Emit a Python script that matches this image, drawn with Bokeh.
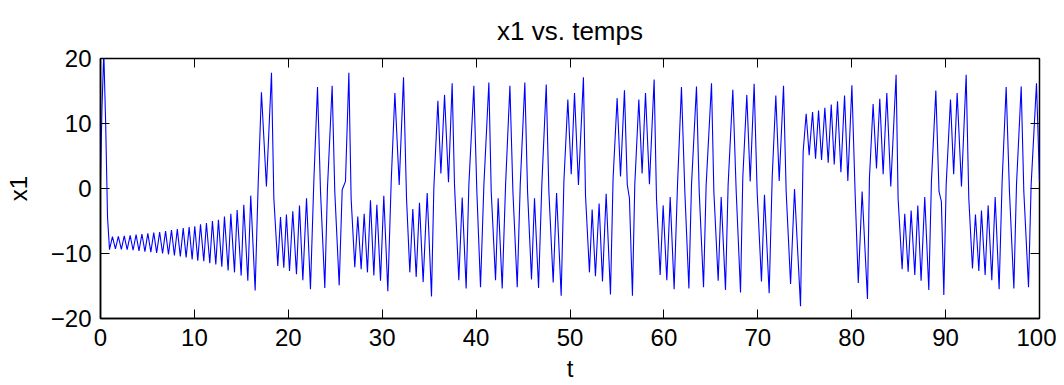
from bokeh.plotting import figure
from bokeh.models import LinearAxis, FixedTicker, Range1d, CustomJSTickFormatter
from bokeh.embed import file_html
from bokeh.resources import INLINE

x_ticks = [0, 10, 20, 30, 40, 50, 60, 70, 80, 90, 100]
y_ticks = [-20, -10, 0, 10, 20]

t_a = [0.0, 0.15, 0.35, 0.55, 0.75, 0.96, 1.27, 1.59, 1.90, 2.22, 2.53, 2.84, 3.16, 3.47, 3.79, 4.10,
       4.41, 4.73, 5.04, 5.36, 5.67, 5.98, 6.30, 6.61, 6.93, 7.24, 7.56, 7.87, 8.18, 8.50, 8.81, 9.12,
       9.44, 9.76]
x_a = [1.0, 12.0, 21.0, 10.0, -4.5, -9.4, -7.4, -9.3, -7.35, -9.35, -7.3, -9.4, -7.2, -9.5, -7.1, -9.6,
       -7.0, -9.7, -6.9, -9.8, -6.8, -9.9, -6.7, -10.0, -6.55, -10.15, -6.4, -10.3, -6.25, -10.45, -6.1, -10.6,
       -5.95, -10.9]

t_b = [10.04, 10.36, 10.65, 11.0, 11.28, 11.64, 11.92, 12.28, 12.56, 12.92, 13.2, 13.59, 13.88, 14.27,
       14.55, 14.98, 15.26, 15.69, 16.0, 16.47, 16.79, 17.14, 17.67, 18.21, 18.46, 18.88, 19.17, 19.52,
       19.8, 20.13, 20.48, 20.87, 21.19, 21.55, 21.94, 22.36, 22.72, 23.11, 23.43, 23.89, 24.17, 24.67,
       24.95, 25.42, 25.74, 26.09, 26.45, 26.69, 27.08, 27.4, 27.76, 28.08, 28.43, 28.75, 29.11, 29.43,
       29.82]
x_b = [-5.8, -11.1, -5.5, -11.2, -5.3, -11.5, -5.0, -11.7, -4.8, -12.05, -4.3, -12.6, -3.9, -12.9,
       -3.3, -13.4, -2.5, -14.2, -1.1, -15.7, 0.6, 14.8, 0.3, 17.8, -1.5, -11.9, -4.4, -12.2,
       -4.0, -12.7, -3.5, -13.2, -2.6, -14.1, -1.5, -15.5, 1.1, 15.6, -0.45, -15.3, 0.05, 15.8,
       -0.45, -14.9, -0.2, 1.1, 17.8, -1.5, -12.1, -4.3, -12.4, -3.9, -12.9, -1.8, -13.4, -2.5,
       -14.2]

t_c = [30.17, 30.6, 30.96, 31.35, 31.81, 32.27, 32.59, 32.94, 33.26, 33.62, 33.97, 34.36, 34.79, 35.25,
       35.5, 35.93, 36.25, 36.64, 37.06, 37.45, 37.7, 38.16, 38.52, 38.94, 39.23, 39.76, 40.08, 40.47,
       40.83, 41.36, 41.61, 42.07, 42.35, 42.78, 43.14, 43.6, 43.92, 44.38, 44.7, 45.19, 45.48, 45.9,
       46.22, 46.65, 47.0, 47.47, 47.75, 48.21, 48.57, 49.06, 49.35, 49.77]
x_c = [-1.1, -15.8, 1.1, 14.7, 0.56, 17.1, -1.5, -12.9, -3.15, -13.6, -2.2, -14.4, -0.7, -16.6,
       0.05, 13.5, 2.3, 14.4, 0.97, 16.2, 0.56, -14.1, -1.4, -15.4, 0.56, 15.8, -0.45, -15.2,
       0.56, 16.3, -0.45, -14.1, -1.5, -15.4, 0.56, 15.8, -0.45, -15.2, 0.56, 16.3, -0.45, -14.0,
       -1.5, -15.3, 0.56, 16.0, -0.45, -14.45, -0.7, -16.5, 1.07, 13.7]

t_d = [50.13, 50.48, 50.9, 51.43, 51.65, 52.07, 52.36, 52.71, 53.1, 53.46, 53.85, 54.31, 54.59, 55.02,
       55.38, 55.8, 56.1, 56.33, 56.65, 56.9, 57.33, 57.68, 58.04, 58.46, 58.96, 59.21, 59.6, 59.92,
       60.31, 60.67, 61.09, 61.45, 61.87, 62.23, 62.66, 62.94, 63.47, 63.76, 64.22, 64.5, 65.07, 65.32,
       65.78, 66.1, 66.56, 66.84, 67.34, 67.7, 68.16, 68.4, 68.83, 69.19, 69.61, 69.93]
x_d = [2.2, 14.7, 0.56, 17.1, -1.0, -12.9, -3.25, -13.5, -2.3, -14.3, -0.8, -16.3, 1.58, 13.9,
       1.84, 15.1, 0.56, -1.5, -16.5, 0.56, 13.7, 2.3, 14.7, 0.66, 16.75, -1.5, -13.3, -2.6,
       -14.1, -1.3, -15.5, 0.56, 15.6, -0.45, -15.4, 0.56, 15.7, -0.45, -15.2, 0.56, 16.2, -0.45,
       -14.2, -1.3, -15.6, 0.56, 15.2, -0.45, -16.0, 1.58, 14.4, 1.07, 16.1, -0.45]

t_e = [70.39, 70.71, 71.21, 71.53, 71.92, 72.28, 72.74, 73.02, 73.49, 73.91, 74.55, 74.83, 75.15, 75.47,
       75.83, 76.15, 76.47, 76.79, 77.14, 77.5, 77.82, 78.14, 78.49, 78.85, 79.24, 79.59, 80.02, 80.37,
       80.7, 81.11, 81.68, 81.89, 82.28, 82.64, 82.99, 83.35, 83.74, 84.16, 84.73, 84.94, 85.37, 85.65,
       86.01, 86.33, 86.72, 87.04, 87.39, 87.78, 88.21, 88.49, 88.96, 89.3, 89.55, 89.81]
x_e = [-14.3, -0.96, -16.1, 1.58, 14.3, 1.17, 15.8, -0.45, -14.7, -0.1, -18.1, 5.65, 11.5, 5.14,
       11.76, 4.6, 12.0, 4.4, 12.4, 3.97, 12.9, 3.7, 13.4, 2.5, 14.3, 1.17, 15.9, -0.96,
       -14.55, -0.45, -17.0, 1.58, 13.0, 3.1, 13.8, 2.2, 14.7, 0.3, 17.5, -1.5, -12.4, -3.9,
       -12.8, -3.4, -13.3, -2.6, -14.2, -1.3, -15.6, 1.07, 15.07, -0.45, -2.0, -16.4]

t_f = [90.06, 90.52, 90.86, 91.23, 91.69, 92.19, 92.47, 92.86, 93.18, 93.54, 93.82, 94.21, 94.53, 94.92,
       95.28, 95.7, 96.02, 96.45, 96.8, 97.27, 97.55, 98.05, 98.33, 98.83, 99.11, 99.68, 100.0]
x_f = [0.56, 13.7, 2.2, 14.7, 0.3, 17.5, -1.5, -12.3, -4.0, -12.7, -3.4, -13.3, -2.6, -14.1,
       -1.3, -15.5, 1.07, 15.6, -0.45, -15.4, 0.56, 15.7, -0.45, -15.2, 0.56, 16.2, 1.0]

t = t_a + t_b + t_c + t_d + t_e + t_f
x1 = x_a + x_b + x_c + x_d + x_e + x_f

FONT = "Liberation Sans"

p = figure(width=1056, height=384, x_range=Range1d(0, 100), y_range=Range1d(-20, 20),
           output_backend="svg", toolbar_location=None, title="x1 vs. temps",
           min_border_left=100, min_border_right=17, min_border_top=57, min_border_bottom=59)

p.line(t, x1, line_color="#0000ff", line_width=1.1)

p.xgrid.visible = False
p.ygrid.visible = False
p.outline_line_color = "black"
p.outline_line_width = 1.5
p.background_fill_color = "white"
p.border_fill_color = "white"

p.title.align = "center"
p.title.text_font = FONT
p.title.text_font_size = "26px"
p.title.text_font_style = "normal"
p.title.text_color = "black"
p.title.standoff = 26

for ax in (p.xaxis[0], p.yaxis[0]):
    ax.major_label_text_font = FONT
    ax.major_label_text_font_size = "24px"
    ax.major_label_text_color = "black"
    ax.axis_label_text_font = FONT
    ax.axis_label_text_font_size = "24px"
    ax.axis_label_text_font_style = "normal"
    ax.axis_label_text_color = "black"
    ax.major_tick_in = 9
    ax.major_tick_out = 0
    ax.minor_tick_line_color = None
    ax.axis_line_width = 1.5
    ax.major_tick_line_width = 1

p.xaxis[0].ticker = FixedTicker(ticks=x_ticks)
p.yaxis[0].ticker = FixedTicker(ticks=y_ticks)
p.xaxis[0].axis_label = "t"
p.yaxis[0].axis_label = "x1"
p.xaxis[0].major_label_standoff = 10
p.yaxis[0].major_label_standoff = 9
p.xaxis[0].axis_label_standoff = 6
p.yaxis[0].axis_label_standoff = 16
p.yaxis[0].major_label_overrides = {-20: "\u221220", -10: "\u221210"}

blank = CustomJSTickFormatter(code="return ''")
top = LinearAxis(ticker=FixedTicker(ticks=x_ticks), formatter=blank,
                 major_tick_in=9, major_tick_out=0, minor_tick_line_color=None,
                 axis_line_color=None, major_label_standoff=0)
right = LinearAxis(ticker=FixedTicker(ticks=y_ticks), formatter=blank,
                   major_tick_in=9, major_tick_out=0, minor_tick_line_color=None,
                   axis_line_color=None, major_label_standoff=0)
p.add_layout(top, "above")
p.add_layout(right, "right")

open("out.html", "w").write(file_html(p, INLINE))
